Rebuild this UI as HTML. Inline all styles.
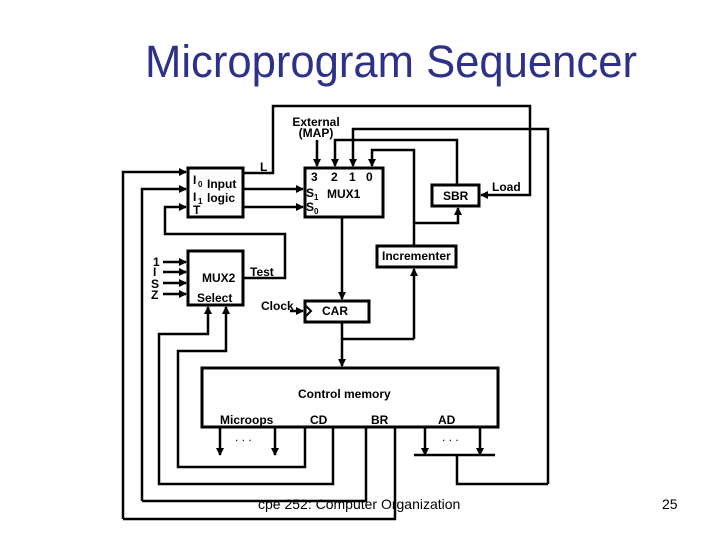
<!DOCTYPE html>
<html><head><style>body{margin:0;background:#fff}svg{display:block}</style></head><body>
<svg width="720" height="540" xmlns="http://www.w3.org/2000/svg" font-family="Liberation Sans, sans-serif">
<defs><marker id="a" markerWidth="8" markerHeight="8" refX="7" refY="4" orient="auto" markerUnits="userSpaceOnUse"><path d="M0,0L8,4L0,8z" fill="#000"/></marker></defs>
<rect width="720" height="540" fill="#fff"/>
<text x="145" y="77" font-size="45" fill="#2e318a" textLength="492" lengthAdjust="spacingAndGlyphs">Microprogram Sequencer</text>
<g fill="none" stroke="#000" stroke-width="3">
<rect x="188" y="168" width="55" height="49"/>
<rect x="305" y="168" width="78" height="49"/>
<rect x="432" y="185" width="47" height="21"/>
<rect x="377" y="246" width="79" height="21"/>
<rect x="188" y="251" width="55" height="54"/>
<rect x="305" y="301" width="64" height="21"/>
<rect x="202" y="368" width="296" height="59"/>
</g>
<g fill="none" stroke="#000" stroke-width="2.5">
<polyline points="243,173 273,173 273,106 530,106 530,195 481,195" marker-end="url(#a)"/>
<polyline points="548,484 548,129 353,129 353,166" marker-end="url(#a)"/>
<polyline points="548,484 457,484 457,455"/>
<polyline points="457,185 457,140 335,140 335,166" marker-end="url(#a)"/>
<polyline points="317,140 317,166" marker-end="url(#a)"/>
<polyline points="414,246 414,150 372,150 372,166" marker-end="url(#a)"/>
<polyline points="414,223 458,223 458,208" marker-end="url(#a)"/>
<polyline points="414,339 414,269" marker-end="url(#a)"/>
<polyline points="414,339 342,339"/>
<polyline points="342,322 342,366" marker-end="url(#a)"/>
<polyline points="342,217 342,299" marker-end="url(#a)"/>
<polyline points="243,189 303,189" marker-end="url(#a)"/>
<polyline points="243,207 303,207" marker-end="url(#a)"/>
<polyline points="123,519 123,172 186,172" marker-end="url(#a)"/>
<polyline points="142,501 142,189 186,189" marker-end="url(#a)"/>
<polyline points="243,278 285,278 285,234 165,234 165,207 186,207" marker-end="url(#a)"/>
<polyline points="163,262 186,262" marker-end="url(#a)"/>
<polyline points="163,272 186,272" marker-end="url(#a)"/>
<polyline points="163,283 186,283" marker-end="url(#a)"/>
<polyline points="163,294 186,294" marker-end="url(#a)"/>
<polyline points="333,427 333,484 159,484 159,334 208,334 208,307" marker-end="url(#a)"/>
<polyline points="305,427 305,467 178,467 178,351 226,351 226,307" marker-end="url(#a)"/>
<polyline points="366,427 366,501 142,501"/>
<polyline points="395,427 395,519 123,519"/>
<polyline points="220,427 220,455" marker-end="url(#a)"/>
<polyline points="275,427 275,455" marker-end="url(#a)"/>
<polyline points="425,427 425,455" marker-end="url(#a)"/>
<polyline points="480,427 480,455" marker-end="url(#a)"/>
<polyline points="414,455 495,455"/>
<polyline points="290,311 303,311" marker-end="url(#a)"/>
<polyline points="305,305 311,311 305,317" stroke-width="2"/>
</g>
<g font-size="12" font-weight="bold" fill="#000">
<text x="316" y="126" text-anchor="middle">External</text>
<text x="316" y="137" text-anchor="middle">(MAP)</text>
<text x="260" y="171">L</text>
<text x="193" y="184">I</text><text x="198" y="187" font-size="8">0</text>
<text x="207" y="188">Input</text>
<text x="193" y="201">I</text><text x="198" y="204" font-size="8">1</text>
<text x="207" y="202">logic</text>
<text x="193" y="214">T</text>
<text x="311" y="181">3</text><text x="331" y="181">2</text><text x="349" y="181">1</text><text x="366" y="181">0</text>
<text x="306" y="197">S</text><text x="314" y="200" font-size="8">1</text>
<text x="327" y="198">MUX1</text>
<text x="306" y="211">S</text><text x="314" y="214" font-size="8">0</text>
<text x="443" y="200">SBR</text>
<text x="492" y="191">Load</text>
<text x="382" y="260">Incrementer</text>
<text x="153" y="266">1</text><text x="153" y="276">I</text><text x="151" y="288">S</text><text x="151" y="299">Z</text>
<text x="202" y="282">MUX2</text>
<text x="197" y="302">Select</text>
<text x="250" y="276">Test</text>
<text x="261" y="310">Clock</text>
<text x="322" y="315">CAR</text>
<text x="298" y="398">Control memory</text>
<text x="220" y="424">Microops</text>
<text x="310" y="424">CD</text>
<text x="371" y="424">BR</text>
<text x="438" y="424">AD</text>
<text x="235" y="441" font-weight="normal">. . .</text>
<text x="442" y="441" font-weight="normal">. . .</text>
</g>
<text x="258" y="509" font-size="14" fill="#000">cpe 252: Computer Organization</text>
<text x="662" y="509" font-size="14" fill="#000">25</text>
</svg>
</body></html>
